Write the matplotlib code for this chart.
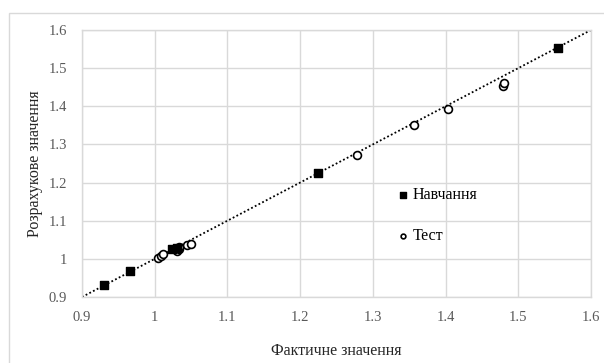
import matplotlib.pyplot as plt
from matplotlib.patches import Rectangle

plt.rcParams['font.family'] = ['Liberation Serif', 'DejaVu Serif']

# training set (filled squares)
train_x = [0.930, 0.966, 1.024, 1.030, 1.225, 1.555]
train_y = [0.931, 0.967, 1.026, 1.028, 1.226, 1.552]

# test set (open circles)
test_x = [1.004, 1.009, 1.011, 1.031, 1.033, 1.034, 1.045, 1.050,
          1.278, 1.357, 1.403, 1.479, 1.480]
test_y = [1.001, 1.008, 1.012, 1.020, 1.025, 1.032, 1.036, 1.038,
          1.272, 1.351, 1.392, 1.452, 1.461]

ticks = [0.9, 1.0, 1.1, 1.2, 1.3, 1.4, 1.5, 1.6]
tick_labels = ['0.9', '1', '1.1', '1.2', '1.3', '1.4', '1.5', '1.6']

grid_c = '#d9d9d9'
text_c = '#595959'

fig = plt.figure(figsize=(6.04, 3.63), dpi=100)
ax = fig.add_axes([82 / 604, 1 - 297 / 363, (591 - 82) / 604, (297 - 30) / 363])

# chart border
fig.patches.append(Rectangle((9 / 604, -0.1), 1.0, (363 - 13) / 363 + 0.1,
                             transform=fig.transFigure, fill=False,
                             edgecolor=grid_c, linewidth=1.0))

ax.plot([0.9, 1.6], [0.9, 1.6], color='black', linestyle=(0, (1, 1.3)),
        linewidth=1.3, zorder=2)

ax.scatter(test_x, test_y, marker='o', s=32, facecolor='white',
           edgecolor='black', linewidth=1.2, zorder=3, label='Тест')
ax.scatter(train_x, train_y, marker='s', s=40, color='black', zorder=4,
           label='Навчання')

ax.set_xlim(0.9, 1.6)
ax.set_ylim(0.9, 1.6)
ax.set_xticks(ticks)
ax.set_xticklabels(tick_labels)
ax.set_yticks(ticks)
ax.set_yticklabels(tick_labels)
ax.tick_params(length=0, colors=text_c, labelsize=10.5)
ax.tick_params(axis='x', pad=10)
ax.tick_params(axis='y', pad=11)
ax.grid(True, color=grid_c, linewidth=1.0)
ax.set_axisbelow(True)
for s in ax.spines.values():
    s.set_color(grid_c)
    s.set_linewidth(1.0)

ax.set_xlabel('Фактичне значення', fontsize=11.5, color='#262626', labelpad=14)
ax.set_ylabel('Розрахукове значення', fontsize=11.5, color='#262626', labelpad=4)

h, l = ax.get_legend_handles_labels()
ax.legend(h[::-1], l[::-1], loc='upper left', bbox_to_anchor=(0.608, 0.443),
          frameon=False, fontsize=11.5, markerscale=0.6, handlelength=0.5,
          handletextpad=0.3, labelspacing=1.6, borderpad=0)

fig.savefig('out.png', dpi=100)
